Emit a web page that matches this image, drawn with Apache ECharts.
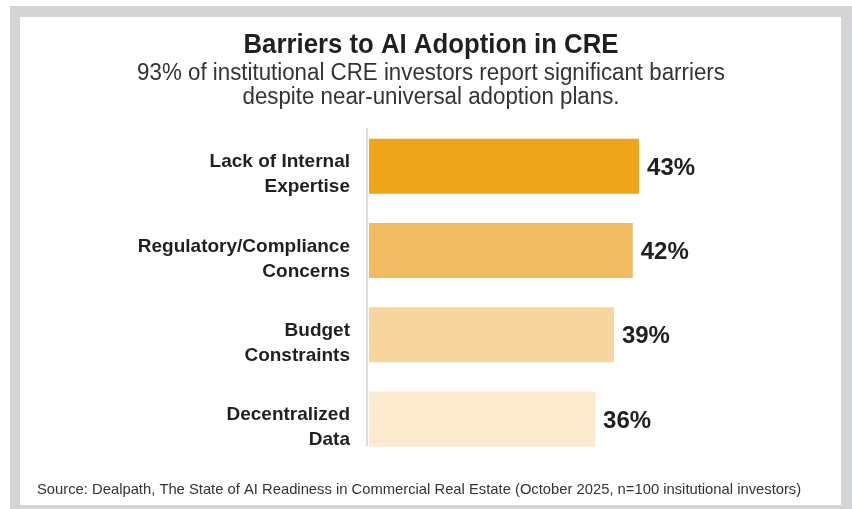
<!DOCTYPE html>
<html>
<head>
<meta charset="utf-8">
<script src="https://cdn.jsdelivr.net/npm/echarts@6/dist/echarts.min.js"></script>
<style>
  html, body { margin: 0; padding: 0; background: #ffffff; }
  #frame { position: absolute; left: 10px; top: 6px; width: 842px; height: 503px; background: #d3d4d6; }
  #inner { position: absolute; left: 20px; top: 17px; width: 821px; height: 488px; background: #ffffff; }
  #chart { position: absolute; left: 0; top: 0; width: 852px; height: 509px; }
</style>
</head>
<body>
<div id="frame"></div>
<div id="inner"></div>
<div id="chart"></div>
<script>
const titleText = 'Barriers to AI Adoption in CRE';
const subtitleLines = ['93% of institutional CRE investors report significant barriers', 'despite near-universal adoption plans.'];
const sourceText = 'Source: Dealpath, The State of AI Readiness in Commercial Real Estate (October 2025, n=100 insitutional investors)';
const categories = ['Lack of Internal\nExpertise', 'Regulatory/Compliance\nConcerns', 'Budget\nConstraints', 'Decentralized\nData'];
const values = [43, 42, 39, 36];
const barColors = ['#eea51a', '#f2bd62', '#f7d59d', '#fbeace'];

const FONT = '"Liberation Sans", Arial, sans-serif';

const chart = echarts.init(document.getElementById('chart'), null, { renderer: 'canvas' });
chart.setOption({
  animation: false,
  textStyle: { fontFamily: FONT },
  graphic: [
    { type: 'text', x: 431, y: 45, scaleX: 0.92,
      style: { text: titleText, font: 'bold 28px ' + FONT, fill: '#231f20', align: 'center', verticalAlign: 'middle' } },
    { type: 'text', x: 431, y: 74, scaleX: 0.97,
      style: { text: subtitleLines[0], font: '23px ' + FONT, fill: '#333333', align: 'center', verticalAlign: 'middle' } },
    { type: 'text', x: 431, y: 98, scaleX: 0.97,
      style: { text: subtitleLines[1], font: '23px ' + FONT, fill: '#333333', align: 'center', verticalAlign: 'middle' } },
    { type: 'text', x: 37, y: 490, scaleX: 0.985,
      style: { text: sourceText, font: '15px ' + FONT, fill: '#333333', align: 'left', verticalAlign: 'middle' } },
    { type: 'line', shape: { x1: 367, y1: 128, x2: 367, y2: 446 },
      style: { stroke: '#dcdcdc', lineWidth: 2 }, z: 10 }
  ],
  grid: { left: 369, top: 124, width: 314, height: 337 },
  xAxis: { type: 'value', min: 0, max: 50, show: false },
  yAxis: {
    type: 'category', data: categories, inverse: true,
    axisLine: { show: false }, axisTick: { show: false },
    axisLabel: {
      margin: 19, fontFamily: FONT, fontSize: 19, fontWeight: 'bold', color: '#231f20',
      lineHeight: 25, align: 'right',
      formatter: v => '{s| }\n' + v,
      rich: { s: { fontSize: 10, lineHeight: 17, height: 17 } }
    }
  },
  series: [{
    type: 'bar', barWidth: 55,
    data: values.map((v, i) => ({ value: v, itemStyle: { color: barColors[i] } })),
    label: {
      show: true, position: 'right', distance: 8, formatter: '{c}%', offset: [0, 2],
      fontFamily: FONT, fontSize: 24, fontWeight: 'bold', color: '#231f20'
    }
  }]
});
</script>
</body>
</html>
